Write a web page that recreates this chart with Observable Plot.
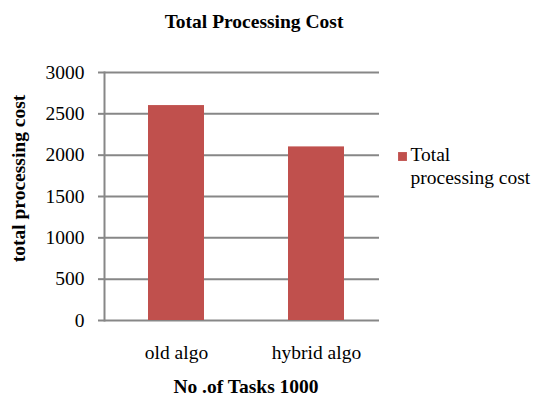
<!DOCTYPE html>
<html>
<head>
<meta charset="utf-8">
<script src="https://cdn.jsdelivr.net/npm/d3@7"></script>
<script src="https://cdn.jsdelivr.net/npm/@observablehq/plot@0.6"></script>
<style>
  html, body { margin: 0; padding: 0; background: #fff; }
  svg { display: block; }
</style>
</head>
<body>
<div id="chart"></div>
<script>
const categories = ["old algo", "hybrid algo"];
const values = [2600, 2100];
const yTicks = [0, 500, 1000, 1500, 2000, 2500, 3000];
const titleText = "Total Processing Cost";
const xLabel = "No .of Tasks 1000";
const yLabel = "total processing cost";
const seriesName = "Total\nprocessing cost";

const data = categories.map((c, i) => ({category: c, value: values[i]}));
const font = "'Liberation Serif', 'Times New Roman', Times, serif";
const barColor = "#C0504D";
const gridColor = "#878787";

const chart = Plot.plot({
  width: 534,
  height: 398,
  marginTop: 72,
  marginBottom: 78,
  marginLeft: 104,
  marginRight: 155,
  style: {fontFamily: font, fontSize: "19.5px", color: "#000", background: "#fff"},
  x: {domain: categories, paddingInner: 0.6, paddingOuter: 0.28, align: 0.56, label: null},
  y: {domain: [0, 3000], label: null},
  marks: [
    Plot.ruleY(yTicks, {stroke: gridColor, strokeWidth: 2}),
    Plot.barY(data, {x: "category", y: "value", fill: barColor}),
    Plot.frame({anchor: "left", stroke: gridColor, strokeWidth: 2}),
    Plot.axisY({ticks: yTicks, tickSize: 6, tickPadding: 14, stroke: gridColor, strokeWidth: 2, tickFormat: d => String(d), fontSize: "19.5px", fontFamily: font}),
    Plot.axisX({tickSize: 0, tickPadding: 25, fontSize: "19.5px", fontFamily: font}),
    Plot.text([titleText], {frameAnchor: "top", dx: 12, dy: -51, fontWeight: "bold", fontSize: "19.5px", lineAnchor: "middle", fontFamily: font}),
    Plot.text([xLabel], {frameAnchor: "bottom", dx: 4, dy: 66, fontWeight: "bold", fontSize: "19.5px", lineAnchor: "middle", fontFamily: font}),
    Plot.text([yLabel], {frameAnchor: "left", dx: -86, dy: -18, rotate: -90, textAnchor: "middle", fontWeight: "bold", fontSize: "19.5px", lineAnchor: "middle", fontFamily: font}),
    Plot.dot([seriesName], {frameAnchor: "right", dx: 23, dy: -40, symbol: "square", r: 5, fill: barColor, stroke: null}),
    Plot.text([seriesName], {frameAnchor: "right", dx: 31, dy: -51, textAnchor: "start", lineAnchor: "top", fontSize: "19.5px", lineHeight: 1.15, fontFamily: font})
  ]
});
document.getElementById("chart").appendChild(chart);
</script>
</body>
</html>
